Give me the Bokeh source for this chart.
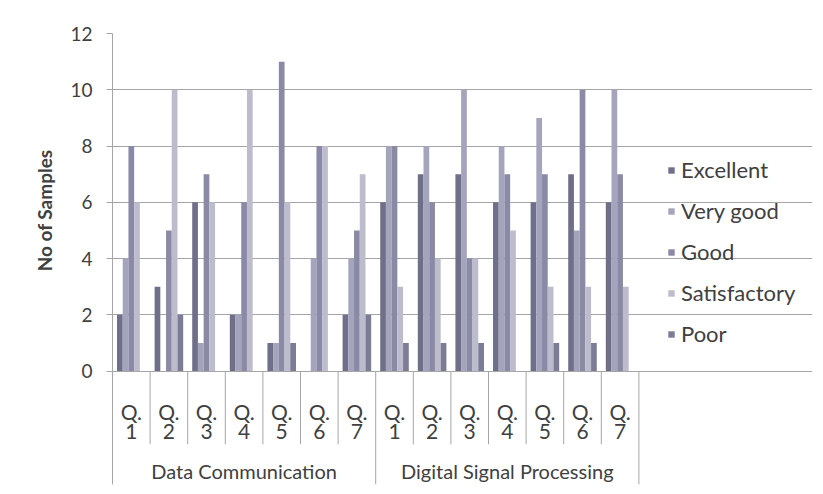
import numpy as np
from bokeh.plotting import figure
from bokeh.models import Range1d, FixedTicker, Legend, LegendItem, ColumnDataSource, Title
from bokeh.embed import file_html
from bokeh.resources import INLINE
from bokeh.core.properties import value

groups = ["Data Communication", "Digital Signal Processing"]
questions = ["1", "2", "3", "4", "5", "6", "7"]
series = ["Excellent", "Very good", "Good", "Satisfactory", "Poor"]
excellent = [2, 3, 6, 2, 1, 0, 2, 6, 7, 7, 6, 6, 7, 6]
very_good = [4, 0, 1, 2, 1, 4, 4, 8, 8, 10, 8, 9, 5, 10]
good = [8, 5, 7, 6, 11, 8, 5, 8, 6, 4, 7, 7, 10, 7]
satisfactory = [6, 10, 6, 10, 6, 8, 7, 3, 4, 4, 5, 3, 3, 3]
poor = [0, 2, 0, 0, 1, 0, 2, 1, 1, 1, 0, 1, 1, 0]
y_ticks = [0, 2, 4, 6, 8, 10, 12]

values = [excellent, very_good, good, satisfactory, poor]
colors = ["#6f6f8a", "#a4a4bc", "#8a8aa6", "#bcbccc", "#7c7c96"]

FONT = "Lato"
TXT = "#404040"
GRID = "#a6a6a6"
FS = "21px"

ncat = len(groups) * len(questions)
centers = np.arange(ncat) + 0.5
YMIN = -4.03
XMAX = 700 / (526.4 / ncat)  # frame extends right to host the legend

p = figure(width=815, height=486, output_backend="svg", toolbar_location=None,
           x_range=Range1d(0, XMAX), y_range=Range1d(YMIN, 12),
           x_axis_location=None, min_border_left=112, min_border_right=3,
           min_border_top=33, min_border_bottom=2)
p.outline_line_color = None
p.xgrid.visible = False
p.ygrid.ticker = FixedTicker(ticks=y_ticks)
p.ygrid.grid_line_color = GRID
p.ygrid.bounds = (0, ncat)
p.yaxis.ticker = FixedTicker(ticks=y_ticks)
p.yaxis.axis_line_color = GRID
p.yaxis.major_tick_line_color = GRID
p.yaxis.major_tick_out = 6
p.yaxis.major_tick_in = 0
p.yaxis.minor_tick_line_color = None
p.yaxis.major_label_standoff = 14
p.yaxis.major_label_text_font = FONT
p.yaxis.major_label_text_font_size = "19px"
p.yaxis.major_label_text_color = TXT

bw = 0.152
items = []
for i, (name, vals, col) in enumerate(zip(series, values, colors)):
    src = ColumnDataSource(dict(x=centers + (i - 2) * bw, top=vals))
    r = p.vbar(x="x", top="top", bottom=0, width=bw, source=src,
               fill_color=col, line_color=None)
    items.append(LegendItem(label=name, renderers=[r]))

# category separators
inner = [b for b in range(1, ncat) if b % len(questions) != 0]
outer = [b for b in range(0, ncat + 1) if b % len(questions) == 0 and b > 0]
p.segment(x0=inner, y0=[0] * len(inner), x1=inner, y1=[-2.6] * len(inner),
          line_color=GRID, line_width=1)
p.segment(x0=outer, y0=[0] * len(outer), x1=outer, y1=[YMIN] * len(outer),
          line_color=GRID, line_width=1)

qlabels = questions * len(groups)
p.text(x=centers, y=[-1.42] * ncat, text=["Q."] * ncat, text_align="center",
       text_baseline="middle", text_font=value(FONT), text_font_size=FS,
       text_color=TXT)
p.text(x=centers, y=[-2.13] * ncat, text=qlabels, text_align="center",
       text_baseline="middle", text_font=value(FONT), text_font_size=FS,
       text_color=TXT)
gx = [len(questions) * (g + 0.5) for g in range(len(groups))]
p.text(x=gx, y=[-3.56] * len(groups), text=groups, text_align="center",
       text_baseline="middle", text_font=value(FONT), text_font_size="20px",
       text_color=TXT)

p.add_layout(Title(text="No of Samples", align="right", offset=116,
                   text_font=FONT, text_font_size="19px", text_font_style="bold",
                   text_color=TXT, standoff=24), "left")

legend = Legend(items=items, location=(555, 137))
legend.border_line_color = None
legend.background_fill_alpha = 0
legend.label_text_font = FONT
legend.label_text_font_size = "22px"
legend.label_text_color = TXT
legend.glyph_width = 8
legend.glyph_height = 8
legend.label_height = 20
legend.spacing = 14
legend.padding = 0
legend.margin = 0
legend.label_standoff = 6
p.add_layout(legend)

open("out.html", "w").write(file_html(p, INLINE))
